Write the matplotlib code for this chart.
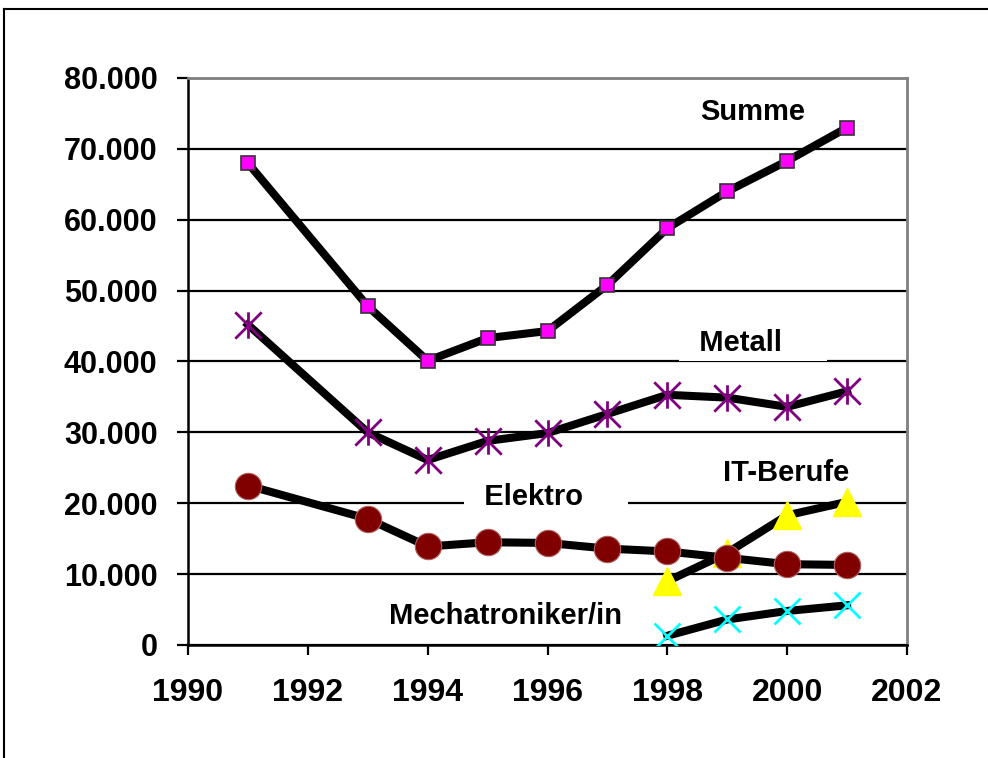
import matplotlib
matplotlib.use("Agg")
import matplotlib.pyplot as plt
from matplotlib.path import Path
from matplotlib.lines import Line2D

plt.rcParams['font.family'] = ['Liberation Sans', 'DejaVu Sans']
plt.rcParams['font.weight'] = 'bold'

years_all = [1991, 1993, 1994, 1995, 1996, 1997, 1998, 1999, 2000, 2001]
summe = [68000, 47800, 40100, 43300, 44300, 50800, 58800, 64000, 68300, 73000]
metall = [45200, 30000, 26100, 28800, 29900, 32600, 35300, 34900, 33600, 35800]
elektro = [22500, 17800, 13900, 14500, 14400, 13600, 13200, 12300, 11400, 11300]
years_new = [1998, 1999, 2000, 2001]
it_berufe = [9000, 13000, 18300, 20200]
mechatroniker = [1300, 3600, 4800, 5600]

xticks = [1990, 1992, 1994, 1996, 1998, 2000, 2002]
yticks = [0, 10000, 20000, 30000, 40000, 50000, 60000, 70000, 80000]
ytick_labels = ['0', '10.000', '20.000', '30.000', '40.000', '50.000', '60.000', '70.000', '80.000']

fig = plt.figure(figsize=(9.88, 7.58), dpi=100)
ax = fig.add_axes([188/988, 1-645/758, (907-188)/988, (645-78)/758])

# figure frame (left and top)
fig.add_artist(Line2D([4/988, 4/988], [0, 1-9/758], transform=fig.transFigure, color='black', lw=1.5))
fig.add_artist(Line2D([4/988, 1], [1-9/758, 1-9/758], transform=fig.transFigure, color='black', lw=1.5))

ax.set_xlim(1990, 2002)
ax.set_ylim(0, 80000)
ax.set_xticks(xticks)
ax.set_xticklabels([str(x) for x in xticks])
ax.set_yticks(yticks)
ax.set_yticklabels(ytick_labels)
ax.grid(axis='y', color='black', lw=1.6, zorder=0)
ax.set_axisbelow(True)
for s in ['top', 'right']:
    ax.spines[s].set_color('#808080')
    ax.spines[s].set_linewidth(2)
for s in ['left', 'bottom']:
    ax.spines[s].set_color('black')
    ax.spines[s].set_linewidth(1.8)
ax.tick_params(axis='y', direction='out', length=8, width=1.6, labelsize=22, pad=14)
ax.tick_params(axis='x', direction='out', length=7, width=1.6, labelsize=23, pad=17)
for lab in ax.get_xticklabels() + ax.get_yticklabels():
    lab.set_fontweight('bold')

star = Path([(0, -1), (0, 1), (-1, -1), (1, 1), (-1, 1), (1, -1)],
            [Path.MOVETO, Path.LINETO, Path.MOVETO, Path.LINETO, Path.MOVETO, Path.LINETO])

lw = 5.8
ax.plot(years_all, summe, color='black', lw=lw, marker='s', ms=9.5, mfc='#FF00FF', mec='#333333', mew=1.2, zorder=3)
ax.plot(years_all, metall, color='black', lw=lw, marker=star, ms=19, mfc='none', mec='#800080', mew=2.0, zorder=3)
ax.plot(years_new, it_berufe, color='black', lw=lw, marker='^', ms=20, mfc='#FFFF00', mec='#FFFF00', mew=1, zorder=3)
ax.plot(years_all, elektro, color='black', lw=lw, marker='o', ms=19, mfc='#800000', mec='#B06060', mew=0.8, zorder=4)
ax.plot(years_new, mechatroniker, color='black', lw=lw, marker='x', ms=19, mec='#00FFFF', mew=2.0, zorder=3)

tkw = dict(fontsize=21, fontweight='bold', ha='center', va='center', zorder=2)
box = dict(boxstyle='square,pad=0.15', fc='white', ec='none')
ax.text(1999.42, 75200, 'Summe', **tkw)
ax.text(1999.43, 42600, '  Metall     ', bbox=box, **tkw)
ax.text(1999.98, 24300, 'IT-Berufe', **tkw)
ax.text(1995.97, 20900, '  Elektro     ', bbox=box, **tkw)
ax.text(1995.30, 4100, 'Mechatroniker/in', **tkw)

fig.savefig('out.png', dpi=100)
